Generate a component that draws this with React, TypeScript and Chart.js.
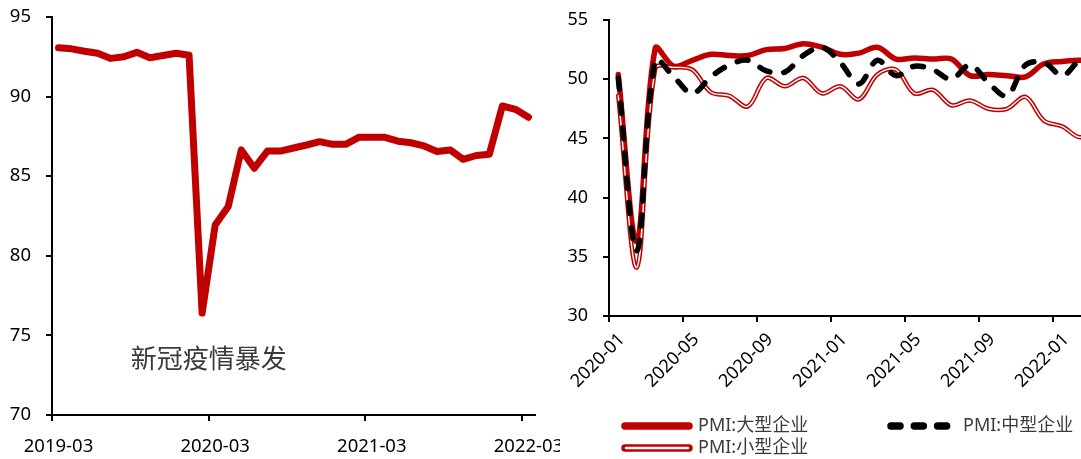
import React, { useEffect, useRef } from "react";
import { Chart, registerables } from "chart.js";

Chart.register(...registerables);

// ---------- Left panel data ----------
const leftMonths = [
  "2019-03", "2019-04", "2019-05", "2019-06", "2019-07", "2019-08", "2019-09", "2019-10", "2019-11", "2019-12",
  "2020-01", "2020-02", "2020-03", "2020-04", "2020-05", "2020-06", "2020-07", "2020-08", "2020-09", "2020-10",
  "2020-11", "2020-12", "2021-01", "2021-02", "2021-03", "2021-04", "2021-05", "2021-06", "2021-07", "2021-08",
  "2021-09", "2021-10", "2021-11", "2021-12", "2022-01", "2022-02", "2022-03",
];
const leftValues = [
  93.07, 93.0, 92.85, 92.72, 92.4, 92.5, 92.78, 92.44, 92.58, 92.72,
  92.6, 76.4, 81.93, 83.1, 86.65, 85.5, 86.58, 86.58, 86.77, 86.96,
  87.17, 87.0, 87.0, 87.44, 87.44, 87.44, 87.2, 87.1, 86.9, 86.55,
  86.65, 86.06, 86.3, 86.38, 89.41, 89.2, 88.7,
];
const leftTickLabels = ["2019-03", "2020-03", "2021-03", "2022-03"];
const leftYTicks = [70, 75, 80, 85, 90, 95];
const annotationText = "新冠疫情暴发";
const annotationMonth = "2020-03";
const annotationValue = 73.6;

// ---------- Right panel data ----------
const rightMonths = [
  "2020-01", "2020-02", "2020-03", "2020-04", "2020-05", "2020-06", "2020-07", "2020-08", "2020-09",
  "2020-10", "2020-11", "2020-12", "2021-01", "2021-02", "2021-03", "2021-04", "2021-05", "2021-06",
  "2021-07", "2021-08", "2021-09", "2021-10", "2021-11", "2021-12", "2022-01", "2022-02", "2022-03",
];
const pmiLarge = [
  50.4, 36.3, 52.6, 51.1, 51.6, 52.1, 52.0, 52.0, 52.5,
  52.6, 53.0, 52.7, 52.1, 52.2, 52.7, 51.7, 51.8, 51.7,
  51.7, 50.3, 50.4, 50.3, 50.2, 51.3, 51.5, 51.6, 51.3,
];
const pmiMedium = [
  50.1, 35.5, 51.6, 50.2, 48.8, 50.2, 51.2, 51.6, 50.7,
  50.6, 52.0, 52.7, 51.4, 49.6, 51.6, 50.3, 51.1, 50.8,
  50.0, 51.2, 49.7, 48.6, 51.2, 51.4, 50.3, 51.5, 48.5,
];
const pmiSmall = [
  48.6, 34.1, 50.9, 51.0, 50.8, 48.9, 48.6, 47.7, 50.1,
  49.4, 50.1, 48.8, 49.4, 48.3, 50.4, 50.8, 48.8, 49.1,
  47.8, 48.2, 47.5, 47.5, 48.5, 46.5, 46.0, 45.1, 46.6,
];
const rightTickLabels = ["2020-01", "2020-05", "2020-09", "2021-01", "2021-05", "2021-09", "2022-01"];
const rightYTicks = [30, 35, 40, 45, 50, 55];
const rightXMax = 25.5; // visible extent (panel is cut at the right edge)
const legendLabels = ["PMI:大型企业", "PMI:中型企业", "PMI:小型企业"];

// ---------- Styles ----------
const RED = "#C00000";
const FONT = '"Noto Sans", "Noto Sans CJK SC", sans-serif';
const CJK_FONT = '"Noto Sans CJK SC", "Noto Sans", sans-serif';
const H = 459;
const LEFT_W = 560;
const RIGHT_W = 521;

function axisCommon() {
  return {
    grid: { display: true, drawOnChartArea: false, drawTicks: true, tickLength: 6, color: "#000", lineWidth: 2 },
    border: { display: true, color: "#000", width: 2 },
  };
}

const annotationPlugin = {
  id: "annotationText",
  afterDatasetsDraw(chart: any) {
    const { ctx, scales } = chart;
    const x = scales.x.getPixelForValue(leftMonths.indexOf(annotationMonth));
    const y = scales.y.getPixelForValue(annotationValue);
    ctx.save();
    ctx.font = `26px ${CJK_FONT}`;
    ctx.fillStyle = "#3a3a3a";
    ctx.textAlign = "center";
    ctx.textBaseline = "middle";
    ctx.fillText(annotationText, x, y);
    ctx.restore();
  },
};

const legendPlugin = {
  id: "customLegend",
  afterDraw(chart: any) {
    const { ctx, chartArea } = chart;
    const x0 = chartArea.left + 13;
    const x1 = chartArea.left + 278;
    const row1 = 426;
    const row2 = 448;
    const sampleW = 70;
    const items = [
      { label: legendLabels[0], kind: "large", x: x0, y: row1 },
      { label: legendLabels[1], kind: "medium", x: x1, y: row1 },
      { label: legendLabels[2], kind: "small", x: x0, y: row2 },
    ];
    ctx.save();
    for (const it of items) {
      ctx.beginPath();
      ctx.lineCap = "round";
      if (it.kind === "large") {
        ctx.strokeStyle = RED;
        ctx.lineWidth = 7.5;
        ctx.setLineDash([]);
        ctx.moveTo(it.x + 3, it.y);
        ctx.lineTo(it.x + sampleW - 3, it.y);
        ctx.stroke();
      } else if (it.kind === "medium") {
        ctx.strokeStyle = "#000";
        ctx.lineWidth = 7.5;
        ctx.setLineDash([9, 14.3]);
        ctx.moveTo(it.x + 4, it.y);
        ctx.lineTo(it.x + sampleW, it.y);
        ctx.stroke();
      } else {
        ctx.strokeStyle = RED;
        ctx.lineWidth = 7.5;
        ctx.setLineDash([]);
        ctx.moveTo(it.x + 3, it.y);
        ctx.lineTo(it.x + sampleW - 3, it.y);
        ctx.stroke();
        ctx.beginPath();
        ctx.strokeStyle = "#fff";
        ctx.lineWidth = 2.5;
        ctx.moveTo(it.x + 4, it.y);
        ctx.lineTo(it.x + sampleW - 4, it.y);
        ctx.stroke();
      }
      ctx.setLineDash([]);
      ctx.fillStyle = "#3a3a3a";
      ctx.font = `18px ${FONT}`;
      ctx.textAlign = "left";
      ctx.textBaseline = "middle";
      ctx.fillText(it.label, it.x + sampleW + 6, it.y);
    }
    ctx.restore();
  },
};

function LeftChart() {
  const ref = useRef<HTMLCanvasElement | null>(null);
  useEffect(() => {
    if (!ref.current) return;
    const chart = new Chart(ref.current, {
      type: "line",
      data: {
        datasets: [
          {
            data: leftValues.map((v, i) => ({ x: i + 0.5, y: v })),
            borderColor: RED,
            borderWidth: 7,
            borderCapStyle: "round",
            borderJoinStyle: "round",
            pointRadius: 0,
            tension: 0,
            fill: false,
          },
        ],
      },
      options: {
        responsive: false,
        animation: false,
        layout: { padding: { top: 17, right: 25, bottom: 0, left: 0 } },
        plugins: { legend: { display: false }, tooltip: { enabled: false } },
        scales: {
          x: {
            type: "linear",
            min: 0,
            max: leftMonths.length,
            afterBuildTicks: (s: any) => {
              s.ticks = leftTickLabels.map((l) => ({ value: leftMonths.indexOf(l) }));
            },
            afterFit: (s: any) => {
              s.height = 44;
              s.paddingLeft = 0;
              s.paddingRight = 0;
            },
            ticks: {
              autoSkip: false,
              maxRotation: 0,
              minRotation: 0,
              padding: 15,
              labelOffset: 6.5,
              color: "#000",
              font: { size: 18.5, family: FONT },
              callback: (v: any) => leftMonths[v] ?? "",
            },
            ...axisCommon(),
          },
          y: {
            type: "linear",
            min: leftYTicks[0],
            max: leftYTicks[leftYTicks.length - 1],
            afterBuildTicks: (s: any) => {
              s.ticks = leftYTicks.map((v) => ({ value: v }));
            },
            afterFit: (s: any) => {
              s.width = 52;
              s.paddingTop = 0;
              s.paddingBottom = 0;
            },
            ticks: { padding: 15, color: "#000", font: { size: 18.5, family: FONT } },
            ...axisCommon(),
          },
        },
      },
      plugins: [annotationPlugin],
    } as any);
    return () => chart.destroy();
  }, []);
  return (
    <canvas
      ref={ref}
      width={LEFT_W}
      height={H}
      style={{ position: "absolute", left: 0, top: 0, width: LEFT_W, height: H }}
    />
  );
}

function RightChart() {
  const ref = useRef<HTMLCanvasElement | null>(null);
  useEffect(() => {
    if (!ref.current) return;
    const pts = (arr: number[]) => arr.map((v, i) => ({ x: i + 0.5, y: v }));
    const common = { pointRadius: 0, tension: 0.35, fill: false, borderCapStyle: "round", borderJoinStyle: "round" };
    const chart = new Chart(ref.current, {
      type: "line",
      data: {
        datasets: [
          { label: legendLabels[0], data: pts(pmiLarge), borderColor: RED, borderWidth: 5.5, order: 4, ...common },
          { label: legendLabels[2], data: pts(pmiSmall), borderColor: RED, borderWidth: 4.5, order: 3, ...common },
          { label: legendLabels[2] + " inner", data: pts(pmiSmall), borderColor: "#FFFFFF", borderWidth: 1.4, order: 2, ...common },
          {
            label: legendLabels[1],
            data: pts(pmiMedium),
            borderColor: "#000",
            borderWidth: 5.5,
            borderDash: [11, 14],
            order: 1,
            ...common,
          },
        ],
      },
      options: {
        responsive: false,
        animation: false,
        layout: { padding: { top: 20, right: 0, bottom: 0, left: 0 } },
        plugins: { legend: { display: false }, tooltip: { enabled: false } },
        scales: {
          x: {
            type: "linear",
            min: 0,
            max: rightXMax,
            afterBuildTicks: (s: any) => {
              s.ticks = rightTickLabels.map((l) => ({ value: rightMonths.indexOf(l) }));
            },
            afterFit: (s: any) => {
              s.height = 143;
              s.paddingLeft = 0;
              s.paddingRight = 0;
            },
            ticks: {
              autoSkip: false,
              maxRotation: 45,
              minRotation: 45,
              padding: 7,
              labelOffset: 13,
              color: "#000",
              font: { size: 18, family: FONT },
              callback: (v: any) => rightMonths[v] ?? "",
            },
            ...axisCommon(),
          },
          y: {
            type: "linear",
            min: rightYTicks[0],
            max: rightYTicks[rightYTicks.length - 1],
            afterBuildTicks: (s: any) => {
              s.ticks = rightYTicks.map((v) => ({ value: v }));
            },
            afterFit: (s: any) => {
              s.width = 49;
              s.paddingTop = 0;
              s.paddingBottom = 0;
            },
            ticks: { padding: 15, color: "#000", font: { size: 18, family: FONT } },
            ...axisCommon(),
          },
        },
      },
      plugins: [legendPlugin],
    } as any);
    return () => chart.destroy();
  }, []);
  return (
    <canvas
      ref={ref}
      width={RIGHT_W}
      height={H}
      style={{ position: "absolute", left: LEFT_W, top: 0, width: RIGHT_W, height: H }}
    />
  );
}

export default function App() {
  return (
    <div style={{ position: "absolute", left: 0, top: 0, width: 1081, height: H, background: "#fff" }}>
      <LeftChart />
      <RightChart />
    </div>
  );
}
